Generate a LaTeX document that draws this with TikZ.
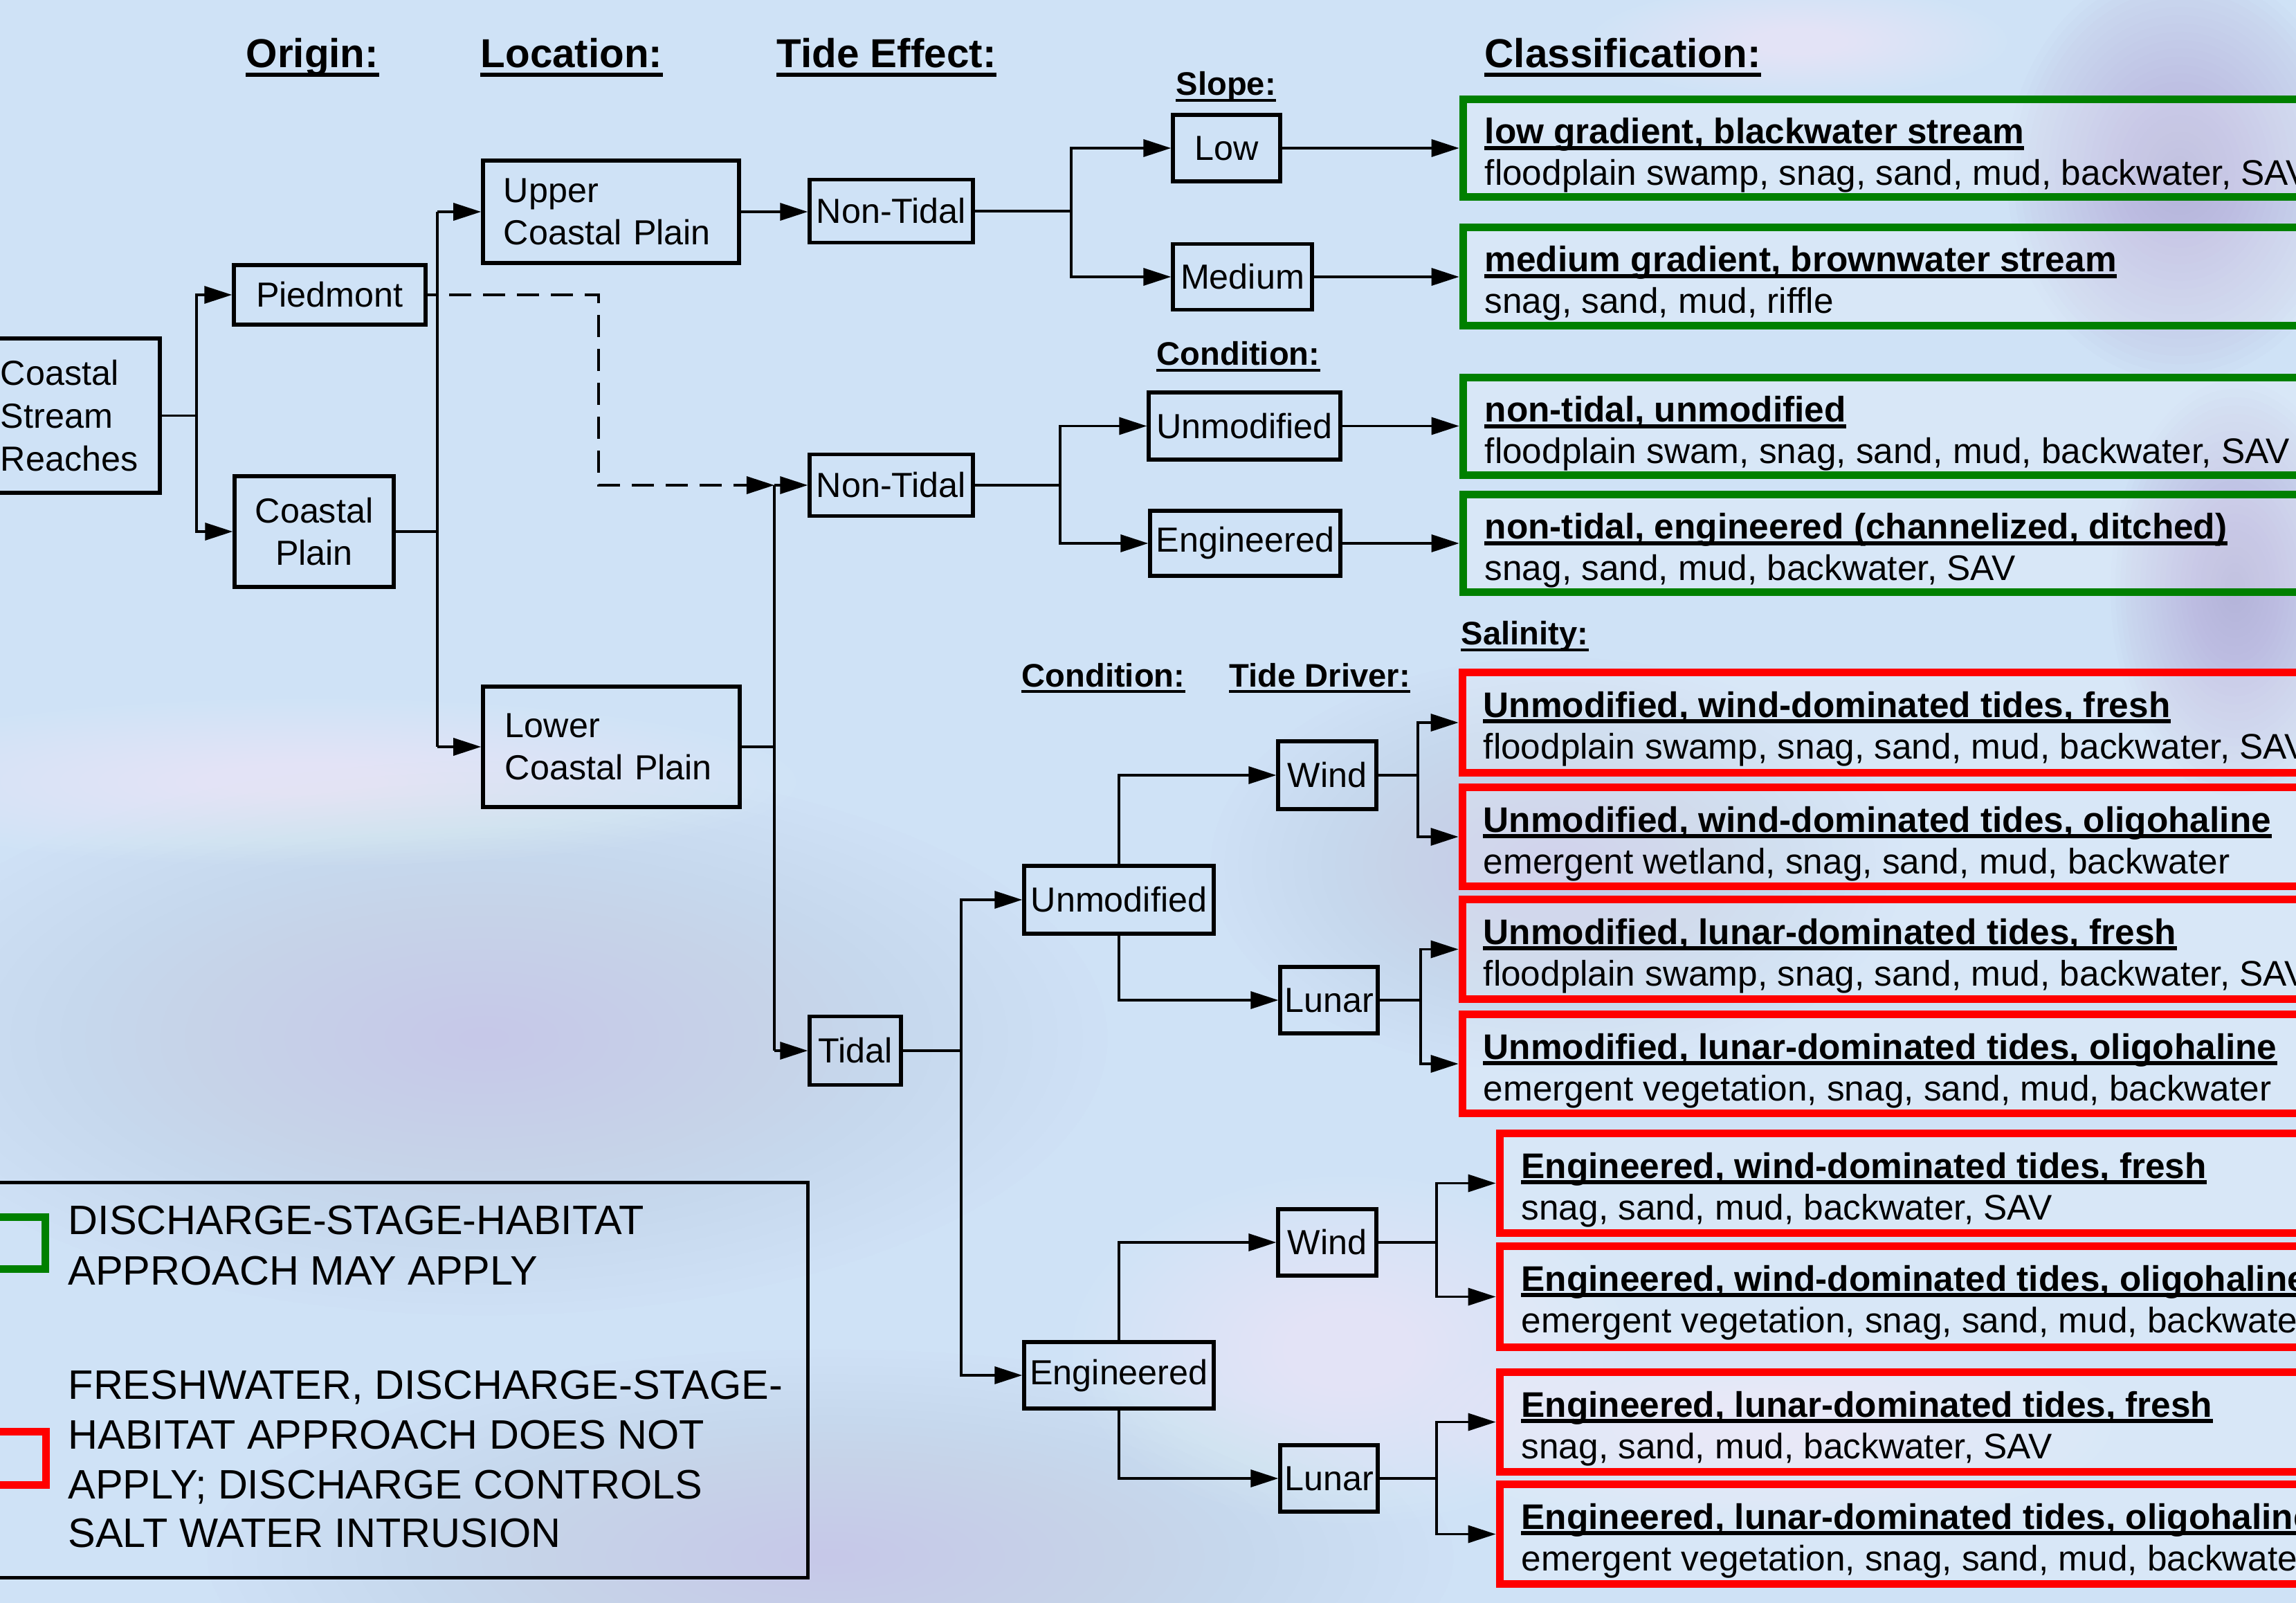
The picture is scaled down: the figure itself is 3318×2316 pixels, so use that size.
\documentclass[tikz,border=0pt]{standalone}
\usepackage{fontspec}
\setmainfont{Liberation Sans}
\usetikzlibrary{arrows.meta}
\definecolor{bgblue}{RGB}{207,226,246}
\definecolor{lav}{RGB}{198,196,232}
\definecolor{purp}{RGB}{175,160,210}
\definecolor{cgreen}{RGB}{0,128,0}
\definecolor{cred}{RGB}{255,0,0}
\newcommand\bxfont{\fontsize{14.3pt}{17.6pt}\selectfont}
\newcommand\hdfont{\fontsize{16.6pt}{19pt}\selectfont\bfseries}
\newcommand\sbfont{\fontsize{13.4pt}{16pt}\selectfont\bfseries}
\newcommand\clfont{\fontsize{14.6pt}{17pt}\selectfont}
\newcommand\lgfont{\fontsize{16.9pt}{20.5pt}\selectfont}
\newcommand\ulnode[3]{\draw[line width=#3] ([yshift=-#2]#1.base west) -- ([yshift=-#2]#1.base east);}
\newcommand\blob[5]{\foreach \k in {1,...,25}{\fill[#5, opacity=0.035] (#1,#2) ellipse [x radius={\k*#3/25*1cm}, y radius={\k*#4/25*1cm}];}}
\tikzset{
  bx/.style={draw=black, line width=1.5pt, inner sep=0pt, font=\bxfont},
  conn/.style={draw=black, line width=1.0pt},
  arr/.style={conn, -{Triangle[length=0.40cm,width=0.25cm]}},
  gbx/.style={draw=cgreen, line width=0.11cm, fill=white, fill opacity=0.2, inner sep=0pt},
  rbx/.style={draw=cred, line width=0.11cm, fill=white, fill opacity=0.2, inner sep=0pt},
  hd/.style={anchor=base west, inner sep=0pt, font=\hdfont},
  sh/.style={anchor=base west, inner sep=0pt, font=\sbfont},
  ttl/.style={anchor=base west, inner sep=0pt, font=\clfont\bfseries},
  dsc/.style={anchor=base west, inner sep=0pt, font=\clfont},
  lg/.style={anchor=base west, inner sep=0pt, font=\lgfont}
}
\begin{document}
\begin{tikzpicture}[x=0.01cm,y=-0.01cm]
\useasboundingbox (0,0) rectangle (3318,2316);
\clip (0,0) rectangle (3318,2316);
% background
\fill[bgblue] (0,0) rectangle (3318,2316);
\blob{700}{1500}{9}{4}{lav}
\blob{1200}{2250}{9}{3}{lav}
\blob{2250}{1250}{5}{3}{lav}
\blob{450}{1130}{7}{1.2}{white}
\blob{1950}{1950}{4}{2.5}{white}
\blob{2550}{2060}{5}{1.5}{white}
\blob{3150}{250}{2.5}{3}{purp}
\blob{3230}{850}{1.8}{3}{purp}
\blob{2600}{60}{3}{0.8}{white}

% classification boxes
\node[gbx, minimum width=12.80cm, minimum height=1.41cm] (g1) at (2754.5,214) {};
\node[gbx, minimum width=12.80cm, minimum height=1.42cm] (g2) at (2754.5,399.5) {};
\node[gbx, minimum width=12.80cm, minimum height=1.41cm] (g3) at (2754.5,616) {};
\node[gbx, minimum width=12.80cm, minimum height=1.41cm] (g4) at (2754.5,785) {};
\node[rbx, minimum width=12.81cm, minimum height=1.45cm] (r1) at (2754,1044) {};
\node[rbx, minimum width=12.81cm, minimum height=1.43cm] (r2) at (2754,1209) {};
\node[rbx, minimum width=12.81cm, minimum height=1.44cm] (r3) at (2754,1371.5) {};
\node[rbx, minimum width=12.81cm, minimum height=1.43cm] (r4) at (2754,1537) {};
\node[rbx, minimum width=12.27cm, minimum height=1.44cm] (r5) at (2781,1709.5) {};
\node[rbx, minimum width=12.27cm, minimum height=1.46cm] (r6) at (2781,1873.5) {};
\node[rbx, minimum width=12.27cm, minimum height=1.44cm] (r7) at (2781,2054.5) {};
\node[rbx, minimum width=12.27cm, minimum height=1.44cm] (r8) at (2781,2216.5) {};

\node[ttl] (g1a) at (2145,208) {low gradient, blackwater stream};
\node[dsc] (g1b) at (2145,268) {floodplain swamp, snag, sand, mud, backwater, SAV};
\node[ttl] (g2a) at (2145,393) {medium gradient, brownwater stream};
\node[dsc] (g2b) at (2145,453) {snag, sand, mud, riffle};
\node[ttl] (g3a) at (2145,610) {non-tidal, unmodified};
\node[dsc] (g3b) at (2145,670) {floodplain swam, snag, sand, mud, backwater, SAV};
\node[ttl] (g4a) at (2145,779) {non-tidal, engineered (channelized, ditched)};
\node[dsc] (g4b) at (2145,839) {snag, sand, mud, backwater, SAV};
\node[ttl] (r1a) at (2143,1036) {Unmodified, wind-dominated tides, fresh};
\node[dsc] (r1b) at (2143,1096) {floodplain swamp, snag, sand, mud, backwater, SAV};
\node[ttl] (r2a) at (2143,1202) {Unmodified, wind-dominated tides, oligohaline};
\node[dsc] (r2b) at (2143,1262) {emergent wetland, snag, sand, mud, backwater};
\node[ttl] (r3a) at (2143,1364) {Unmodified, lunar-dominated tides, fresh};
\node[dsc] (r3b) at (2143,1424) {floodplain swamp, snag, sand, mud, backwater, SAV};
\node[ttl] (r4a) at (2143,1530) {Unmodified, lunar-dominated tides, oligohaline};
\node[dsc] (r4b) at (2143,1590) {emergent vegetation, snag, sand, mud, backwater};
\node[ttl] (r5a) at (2198,1702) {Engineered, wind-dominated tides, fresh};
\node[dsc] (r5b) at (2198,1762) {snag, sand, mud, backwater, SAV};
\node[ttl] (r6a) at (2198,1865) {Engineered, wind-dominated tides, oligohaline};
\node[dsc] (r6b) at (2198,1925) {emergent vegetation, snag, sand, mud, backwater};
\node[ttl] (r7a) at (2198,2047) {Engineered, lunar-dominated tides, fresh};
\node[dsc] (r7b) at (2198,2107) {snag, sand, mud, backwater, SAV};
\node[ttl] (r8a) at (2198,2209) {Engineered, lunar-dominated tides, oligohaline};
\node[dsc] (r8b) at (2198,2269) {emergent vegetation, snag, sand, mud, backwater};
\foreach \n in {g1a,g2a,g3a,g4a,r1a,r2a,r3a,r4a,r5a,r6a,r7a,r8a}{\ulnode{\n}{0.06cm}{1.5pt}}

% headers
\node[hd] (hOrig) at (355,98) {Origin:};
\node[hd] (hLoc) at (694,98) {Location:};
\node[hd] (hTide) at (1122,98) {Tide Effect:};
\node[hd] (hClass) at (2145,98) {Classification:};
\node[sh] (hSlope) at (1699,138) {Slope:};
\node[sh] (hCondA) at (1671,528) {Condition:};
\node[sh] (hSal) at (2111,932) {Salinity:};
\node[sh] (hCondB) at (1476,992) {Condition:};
\node[sh] (hDrv) at (1776,992) {Tide Driver:};
\foreach \n in {hOrig,hLoc,hTide,hClass}{\ulnode{\n}{0.10cm}{1.5pt}}
\foreach \n in {hSlope,hCondA,hSal,hCondB,hDrv}{\ulnode{\n}{0.07cm}{1.2pt}}

% boxes
\node[bx, minimum width=2.41cm, minimum height=2.23cm, text width=2.19cm, align=left] (csr) at (110.5,600.5) {Coastal\\Stream\\Reaches};
\node[bx, minimum width=2.77cm, minimum height=0.86cm] (pied) at (476.5,426) {Piedmont};
\node[bx, minimum width=2.30cm, minimum height=1.60cm, align=center] (cp) at (454,768) {Coastal\\Plain};
\node[bx, minimum width=3.70cm, minimum height=1.48cm, text width=3.10cm, align=left] (ucp) at (883,306) {Upper\\Coastal Plain};
\node[bx, minimum width=3.71cm, minimum height=1.74cm, text width=3.07cm, align=left] (lcp) at (883.5,1079) {Lower\\Coastal Plain};
\node[bx, minimum width=2.36cm, minimum height=0.91cm] (ntu) at (1288,305) {Non-Tidal};
\node[bx, minimum width=2.36cm, minimum height=0.89cm] (ntl) at (1288,701) {Non-Tidal};
\node[bx, minimum width=1.32cm, minimum height=0.99cm] (tid) at (1236,1518) {Tidal};
\node[bx, minimum width=1.55cm, minimum height=0.96cm] (low) at (1772.5,214) {Low};
\node[bx, minimum width=2.01cm, minimum height=0.95cm] (med) at (1795.5,400) {Medium};
\node[bx, minimum width=2.77cm, minimum height=0.97cm] (unt) at (1798.5,615.5) {Unmodified};
\node[bx, minimum width=2.75cm, minimum height=0.94cm] (ent) at (1799.5,785) {Engineered};
\node[bx, minimum width=2.74cm, minimum height=0.98cm] (umt) at (1617,1300) {Unmodified};
\node[bx, minimum width=2.74cm, minimum height=0.96cm] (emt) at (1617,1987) {Engineered};
\node[bx, minimum width=1.42cm, minimum height=0.98cm] (w1) at (1918,1120) {Wind};
\node[bx, minimum width=1.41cm, minimum height=0.96cm] (l1) at (1920.5,1445) {Lunar};
\node[bx, minimum width=1.42cm, minimum height=0.96cm] (w2) at (1918,1795) {Wind};
\node[bx, minimum width=1.41cm, minimum height=0.96cm] (l2) at (1920.5,2136) {Lunar};

% branch columns
\coordinate (xa) at (284,0);
\coordinate (xb) at (632,0);
\coordinate (xd) at (865,0);
\coordinate (xc) at (1119,0);
\coordinate (xe) at (1548,0);
\coordinate (xf) at (1532,0);
\coordinate (xg) at (1389,0);
\coordinate (xh) at (2049,0);
\coordinate (xi) at (2053,0);
\coordinate (xj) at (2076,0);

% connectors
\draw[conn] (csr.east) -- (xa |- csr.east);
\draw[arr] (xa |- csr.east) |- (pied.west);
\draw[arr] (xa |- csr.east) |- (cp.west);
\draw[conn] (pied.east) -- (xb |- pied.east);
\draw[conn] (cp.east) -- (xb |- cp.east);
\draw[conn] (xb |- ucp.west) -- (xb |- lcp.west);
\draw[arr] (xb |- ucp.west) -- (ucp.west);
\draw[arr] (xb |- lcp.west) -- (lcp.west);
\draw[arr, dash pattern=on 0.32cm off 0.17cm, dash phase=0.32cm] (xb |- pied.east) -| (xd |- ntl.west) -- (xc |- ntl.west);
\draw[arr] (ucp.east) -- (ucp.east -| ntu.west);
\draw[conn] (lcp.east) -- (xc |- lcp.east);
\draw[conn] (xc |- ntl.west) -- (xc |- tid.west);
\draw[arr] (xc |- ntl.west) -- (ntl.west);
\draw[arr] (xc |- tid.west) -- (tid.west);
\draw[conn] (ntu.east) -- (xe |- ntu.east);
\draw[arr] (xe |- ntu.east) |- (low.west);
\draw[arr] (xe |- ntu.east) |- (med.west);
\draw[arr] (low.east) -- (low.east -| g1.west);
\draw[arr] (med.east) -- (med.east -| g2.west);
\draw[conn] (ntl.east) -- (xf |- ntl.east);
\draw[arr] (xf |- ntl.east) |- (unt.west);
\draw[arr] (xf |- ntl.east) |- (ent.west);
\draw[arr] (unt.east) -- (unt.east -| g3.west);
\draw[arr] (ent.east) -- (ent.east -| g4.west);
\draw[conn] (tid.east) -- (xg |- tid.east);
\draw[arr] (xg |- tid.east) |- (umt.west);
\draw[arr] (xg |- tid.east) |- (emt.west);
\draw[arr] (umt.north) |- (w1.west);
\draw[arr] (umt.south) |- (l1.west);
\draw[arr] (emt.north) |- (w2.west);
\draw[arr] (emt.south) |- (l2.west);
\draw[conn] (w1.east) -- (xh |- w1.east);
\draw[arr] (xh |- w1.east) |- (r1.west);
\draw[arr] (xh |- w1.east) |- (r2.west);
\draw[conn] (l1.east) -- (xi |- l1.east);
\draw[arr] (xi |- l1.east) |- (r3.west);
\draw[arr] (xi |- l1.east) |- (r4.west);
\draw[conn] (w2.east) -- (xj |- w2.east);
\draw[arr] (xj |- w2.east) |- (r5.west);
\draw[arr] (xj |- w2.east) |- (r6.west);
\draw[conn] (l2.east) -- (xj |- l2.east);
\draw[arr] (xj |- l2.east) |- (r7.west);
\draw[arr] (xj |- l2.east) |- (r8.west);

% legend
\node[draw=black, line width=1.5pt, minimum width=11.875cm, minimum height=5.71cm, inner sep=0pt] (leg) at (573.75,1994) {};
\node[draw=cgreen, line width=0.11cm, minimum size=0.75cm, inner sep=0pt] (lgg) at (28,1796) {};
\node[draw=cred, line width=0.11cm, minimum size=0.77cm, inner sep=0pt] (lgr) at (28,2107) {};
\node[lg] (lt1) at (98,1783) {DISCHARGE-STAGE-HABITAT};
\node[lg] (lt2) at (98,1856) {APPROACH MAY APPLY};
\node[lg] (lt3) at (98,2021) {FRESHWATER, DISCHARGE-STAGE-};
\node[lg] (lt4) at (98,2093) {HABITAT APPROACH DOES NOT};
\node[lg] (lt5) at (98,2165) {APPLY; DISCHARGE CONTROLS};
\node[lg] (lt6) at (98,2235) {SALT WATER INTRUSION};
\end{tikzpicture}
\end{document}
